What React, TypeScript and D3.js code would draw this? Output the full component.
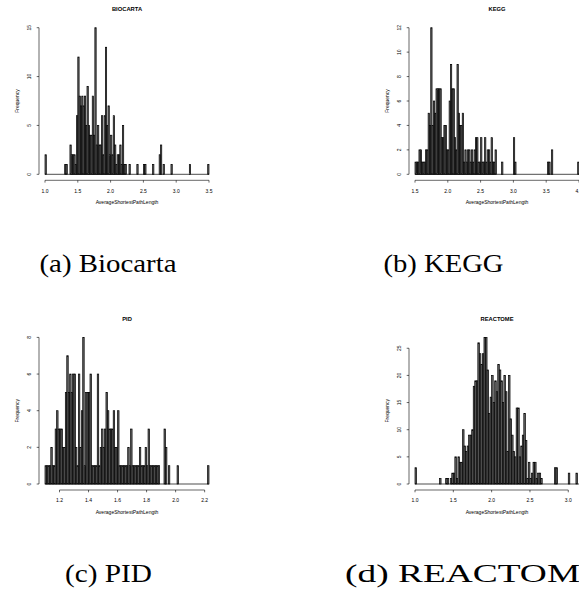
import React from "react";
import * as d3 from "d3";

// ---------- data (histogram counts) ----------
// BIOCARTA: bins of 0.02 starting at 1.00
const biocartaCounts = [
  2, 0, 0, 0, 0, 0, 0, 0, 0, 0,
  0, 0, 0, 0, 0, 1, 1, 0, 0, 3,
  2, 2, 2, 1, 6, 12, 8, 7, 8, 7,
  8, 5, 9, 5, 4, 4, 8, 4, 15, 3,
  5, 3, 3, 6, 2, 6, 13, 5, 7, 2,
  4, 2, 6, 3, 1, 2, 2, 3, 1, 5,
  1, 1, 0, 0, 1, 0, 0, 0, 0, 0,
  1, 0, 0, 0, 0, 1, 1, 0, 0, 0,
  0, 0, 1, 0, 0, 0, 0, 2, 3, 0,
  1, 0, 0, 0, 0, 0, 1, 0, 0, 0,
  0, 0, 0, 0, 0, 0, 0, 0, 0, 0,
  1, 0, 0, 0, 0, 0, 0, 0, 0, 0,
  0, 0, 0, 0, 1,
];

// KEGG: bins of 0.02 starting at 1.50
const keggCounts = [
  1, 1, 1, 2, 2, 1, 1, 1, 2, 2,
  5, 4, 12, 4, 6, 5, 7, 7, 7, 7,
  3, 3, 4, 4, 2, 2, 6, 9, 7, 7,
  3, 2, 9, 5, 4, 4, 5, 1, 2, 1,
  2, 2, 1, 2, 1, 2, 3, 3, 1, 1,
  3, 1, 1, 3, 1, 2, 2, 1, 3, 1,
  1, 2, 0, 0, 0, 0, 1, 0, 0, 0,
  0, 0, 0, 0, 0, 3, 1, 0, 0, 0,
  0, 0, 0, 0, 0, 0, 0, 0, 0, 0,
  0, 0, 0, 0, 0, 0, 0, 0, 0, 0,
  0, 1, 1, 0, 2, 0, 0, 0, 0, 0,
  0, 0, 0, 0, 0, 0, 0, 0, 0, 0,
  0, 0, 0, 0, 1,
];

// PID: bins of 0.01 starting at 1.10
const pidCounts = [
  1, 1, 1, 1, 2, 1, 1, 3, 4, 3,
  3, 3, 2, 2, 5, 7, 5, 6, 5, 6,
  6, 2, 1, 6, 2, 4, 8, 1, 5, 5,
  5, 6, 1, 1, 1, 1, 6, 1, 2, 3,
  2, 3, 5, 4, 3, 3, 3, 4, 2, 2,
  4, 1, 1, 1, 1, 1, 1, 2, 1, 3,
  1, 1, 1, 1, 1, 2, 1, 1, 1, 2,
  1, 3, 1, 1, 1, 1, 1, 1, 1, 0,
  0, 0, 3, 2, 0, 1, 0, 0, 0, 0,
  0, 1, 0, 0, 0, 0, 0, 0, 0, 0,
  0, 0, 0, 0, 0, 0, 0, 0, 0, 0,
  0, 0, 1,
];

// REACTOME: bins of 0.02 starting at 1.00
const reactomeCounts = [
  3, 0, 0, 0, 0, 0, 0, 0, 0, 0,
  0, 0, 0, 0, 0, 0, 1, 0, 0, 0,
  1, 1, 0, 1, 2, 2, 5, 1, 5, 4,
  4, 10, 7, 6, 7, 9, 9, 10, 18, 19,
  19, 26, 24, 22, 24, 27, 27, 21, 13, 16,
  20, 15, 19, 17, 22, 21, 19, 15, 20, 17,
  6, 20, 12, 9, 6, 5, 14, 14, 5, 7,
  9, 13, 8, 1, 4, 1, 2, 4, 4, 1,
  2, 2, 1, 0, 0, 0, 0, 0, 0, 0,
  0, 3, 3, 0, 0, 0, 0, 0, 0, 0,
  2, 0, 0, 0, 0, 2, 0,
];

const panelTitles = ["BIOCARTA", "KEGG", "PID", "REACTOME"];
const panelCaptions = ["(a) Biocarta", "(b) KEGG", "(c) PID", "(d) REACTOME"];
const breakStarts = [1.0, 1.5, 1.1, 1.0];
const binWidths = [0.02, 0.02, 0.01, 0.02];

const xTicksA = [1.0, 1.5, 2.0, 2.5, 3.0, 3.5];
const xTicksB = [1.5, 2.0, 2.5, 3.0, 3.5, 4.0];
const xTicksC = [1.2, 1.4, 1.6, 1.8, 2.0, 2.2];
const xTicksD = [1.0, 1.5, 2.0, 2.5, 3.0];
const yTicksA = [0, 5, 10, 15];
const yTicksB = [0, 2, 4, 6, 8, 10, 12];
const yTicksC = [0, 2, 4, 6, 8];
const yTicksD = [0, 5, 10, 15, 20, 25];

const xLabel = "AverageShortestPathLength";
const yLabel = "Frequency";

// ---------- layout ----------
const W = 579;
const H = 592;
const COL_X = [0, 370];
const ROW_Y = [0, 309.7];
const PLOT_L = 45;
const PLOT_R = 209;
const BASE_Y = 174.3;
const DATA_H = 146.6;
const AXIS_X = 39;
const SANS = "'Liberation Sans', Arial, Helvetica, sans-serif";
const SERIF = "'Liberation Serif', 'Times New Roman', serif";

const allCounts = [biocartaCounts, keggCounts, pidCounts, reactomeCounts];
const allXTicks = [xTicksA, xTicksB, xTicksC, xTicksD];
const allYTicks = [yTicksA, yTicksB, yTicksC, yTicksD];

const captionPos = [
  { x: 39.5, y: 272, len: 137 },
  { x: 383.5, y: 272, len: 120 },
  { x: 65, y: 581.5, len: 87 },
  { x: 345, y: 581.5, len: 258 },
];

function Panel({ i }: { i: number }) {
  const counts = allCounts[i];
  const n = counts.length;
  const start = breakStarts[i];
  const bw = binWidths[i];
  const end = start + n * bw;
  const ox = COL_X[i % 2];
  const oy = ROW_Y[Math.floor(i / 2)];
  const x = d3.scaleLinear().domain([start, end]).range([ox + PLOT_L, ox + PLOT_R]);
  const y = d3
    .scaleLinear()
    .domain([0, d3.max(counts) as number])
    .range([oy + BASE_Y, oy + BASE_Y - DATA_H]);
  const xt = allXTicks[i];
  const yt = allYTicks[i];
  const fmt = d3.format(".1f");
  const axY = oy + BASE_Y + 6;
  const axX = ox + AXIS_X;

  return (
    <g>
      <text x={ox + 127} y={oy + 11.1} textAnchor="middle" fontFamily={SANS} fontWeight="bold" fontSize={5.8} fill="#000">
        {panelTitles[i]}
      </text>
      {/* zero line (empty bins) */}
      <line x1={x(start)} x2={x(end)} y1={y(0)} y2={y(0)} stroke="#000" strokeWidth={0.7} />
      {counts.map((c, j) =>
        c > 0 ? (
          <rect
            key={j}
            x={x(start + j * bw)}
            width={x(start + (j + 1) * bw) - x(start + j * bw)}
            y={y(c)}
            height={y(0) - y(c)}
            fill="#666"
            stroke="#000"
            strokeWidth={0.7}
          />
        ) : null
      )}
      {/* y axis */}
      <line x1={axX} x2={axX} y1={y(yt[0])} y2={y(yt[yt.length - 1])} stroke="#000" strokeWidth={0.6} />
      {yt.map((t) => (
        <g key={"y" + t}>
          <line x1={axX - 2.3} x2={axX} y1={y(t)} y2={y(t)} stroke="#000" strokeWidth={0.6} />
          <text
            transform={`translate(${axX - 8},${y(t)}) rotate(-90)`}
            textAnchor="middle"
            fontFamily={SANS}
            fontSize={5}
          >
            {t}
          </text>
        </g>
      ))}
      <text
        transform={`translate(${ox + 18.5},${oy + 101}) rotate(-90)`}
        textAnchor="middle"
        fontFamily={SANS}
        fontSize={5}
      >
        {yLabel}
      </text>
      {/* x axis */}
      <line x1={x(xt[0])} x2={x(xt[xt.length - 1])} y1={axY} y2={axY} stroke="#000" strokeWidth={0.6} />
      {xt.map((t) => (
        <g key={"x" + t}>
          <line x1={x(t)} x2={x(t)} y1={axY} y2={axY + 2.3} stroke="#000" strokeWidth={0.6} />
          <text x={x(t)} y={oy + 192.5} textAnchor="middle" fontFamily={SANS} fontSize={5}>
            {fmt(t)}
          </text>
        </g>
      ))}
      <text x={ox + 127} y={oy + 203.8} textAnchor="middle" fontFamily={SANS} fontSize={5}>
        {xLabel}
      </text>
    </g>
  );
}

export default function App() {
  return (
    <svg
      width={W}
      height={H}
      viewBox={`0 0 ${W} ${H}`}
      style={{ position: "absolute", left: 0, top: 0, background: "#fff" }}
    >
      <rect x={0} y={0} width={W} height={H} fill="#fff" />
      {[0, 1, 2, 3].map((i) => (
        <Panel key={i} i={i} />
      ))}
      {panelCaptions.map((c, i) => (
        <text
          key={c}
          x={captionPos[i].x}
          y={captionPos[i].y}
          fontFamily={SERIF}
          fontSize={26}
          textLength={captionPos[i].len}
          lengthAdjust="spacingAndGlyphs"
        >
          {c}
        </text>
      ))}
    </svg>
  );
}
